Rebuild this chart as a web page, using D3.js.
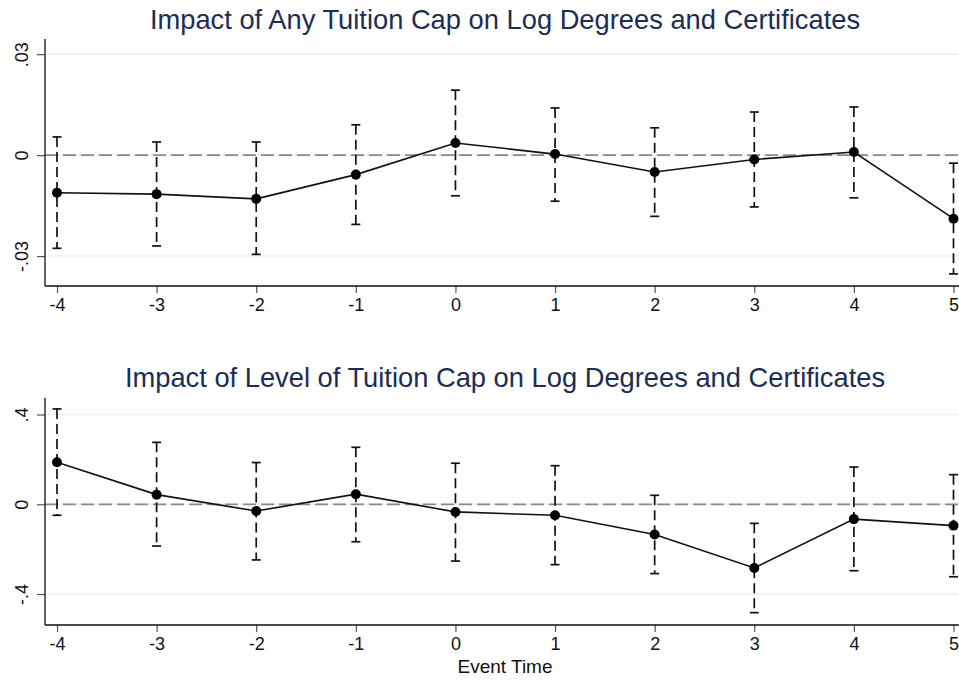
<!DOCTYPE html>
<html>
<head>
<meta charset="utf-8">
<script src="https://cdn.jsdelivr.net/npm/d3@7"></script>
<style>
  html, body { margin: 0; padding: 0; background: #fff; }
  svg { display: block; font-family: "Liberation Sans", Arial, Helvetica, sans-serif; }
</style>
</head>
<body>
<svg id="chart" width="959" height="683"></svg>
<script>
// ---- data ----
const eventTimes = [-4, -3, -2, -1, 0, 1, 2, 3, 4, 5];
const eventTimeLabels = ["-4", "-3", "-2", "-1", "0", "1", "2", "3", "4", "5"];

const anyCapTitle = "Impact of Any Tuition Cap on Log Degrees and Certificates";
const anyCapCoef  = [-0.0112, -0.0116, -0.0130, -0.0058, 0.0036, 0.0003, -0.0050, -0.0013, 0.0009, -0.0189];
const anyCapUpper = [0.0054, 0.0039, 0.0039, 0.0090, 0.0193, 0.0140, 0.0081, 0.0128, 0.0143, -0.0024];
const anyCapLower = [-0.0277, -0.0270, -0.0295, -0.0206, -0.0121, -0.0137, -0.0182, -0.0154, -0.0127, -0.0353];
const anyCapTicks = [-0.03, 0, 0.03];
const anyCapTickLabels = ["-.03", "0", ".03"];

const levelCapTitle = "Impact of Level of Tuition Cap on Log Degrees and Certificates";
const levelCapCoef  = [0.187, 0.043, -0.030, 0.045, -0.034, -0.049, -0.135, -0.284, -0.066, -0.095];
const levelCapUpper = [0.425, 0.276, 0.186, 0.254, 0.183, 0.172, 0.040, -0.085, 0.166, 0.132];
const levelCapLower = [-0.049, -0.186, -0.248, -0.167, -0.253, -0.269, -0.309, -0.483, -0.296, -0.323];
const levelCapTicks = [-0.4, 0, 0.4];
const levelCapTickLabels = ["-.4", "0", ".4"];

const xTitle = "Event Time";

// ---- drawing ----
const svg = d3.select("#chart");
const x = d3.scaleLinear().domain([-4, 5]).range([57, 953.5]);
const plotLeft = 45, plotRight = 959;

function panel(cfg) {
  const y = d3.scaleLinear().domain(cfg.domain).range([cfg.bottom, cfg.top]);
  const g = svg.append("g");

  // title
  g.append("text")
    .attr("x", 505).attr("y", cfg.titleY)
    .attr("text-anchor", "middle")
    .attr("font-size", cfg.titleSize)
    .attr("fill", "#1c2d55")
    .text(cfg.title);

  // gridlines
  g.selectAll(".grid").data(cfg.ticks).enter().append("line")
    .attr("x1", plotLeft).attr("x2", plotRight)
    .attr("y1", d => y(d)).attr("y2", d => y(d))
    .attr("stroke", "#eaf2f3").attr("stroke-width", 1.5);

  // zero reference line
  g.append("line")
    .attr("x1", plotLeft).attr("x2", plotRight)
    .attr("y1", y(0)).attr("y2", y(0))
    .attr("stroke", "#8a8a8a").attr("stroke-width", 1.8)
    .attr("stroke-dasharray", "13,5");

  // y axis
  const yAxis = d3.axisLeft(y).tickValues(cfg.ticks)
    .tickFormat((d, i) => cfg.tickLabels[i]).tickSize(8).tickPadding(6);
  const ya = g.append("g").attr("transform", `translate(${plotLeft},0)`).call(yAxis);
  ya.select(".domain").remove();
  ya.selectAll(".tick line").attr("stroke", "#555").attr("stroke-width", 1.2);
  ya.selectAll(".tick text")
    .attr("font-size", 18).attr("fill", "#111")
    .attr("x", null)
    .attr("text-anchor", "middle")
    .attr("transform", "translate(-23,0) rotate(-90)")
    .attr("dy", "0.36em");
  g.append("line")
    .attr("x1", plotLeft).attr("x2", plotLeft)
    .attr("y1", cfg.top).attr("y2", cfg.bottom)
    .attr("stroke", "#111").attr("stroke-width", 1.3);

  // x axis
  const xAxis = d3.axisBottom(x).tickValues(eventTimes)
    .tickFormat((d, i) => eventTimeLabels[i]).tickSize(7).tickPadding(5);
  const xa = g.append("g").attr("transform", `translate(0,${cfg.bottom})`).call(xAxis);
  xa.select(".domain").remove();
  xa.selectAll(".tick line").attr("stroke", "#555").attr("stroke-width", 1.2);
  xa.selectAll(".tick text").attr("font-size", 18).attr("fill", "#111");
  g.append("line")
    .attr("x1", plotLeft).attr("x2", plotRight)
    .attr("y1", cfg.bottom).attr("y2", cfg.bottom)
    .attr("stroke", "#111").attr("stroke-width", 1.3);

  const rows = eventTimes.map((t, i) => ({ t, c: cfg.coef[i], u: cfg.upper[i], l: cfg.lower[i] }));

  // error bars
  g.selectAll(".ci").data(rows).enter().append("line")
    .attr("x1", d => x(d.t)).attr("x2", d => x(d.t))
    .attr("y1", d => y(d.u)).attr("y2", d => y(d.l))
    .attr("stroke", "#111").attr("stroke-width", 1.7)
    .attr("stroke-dasharray", "10,5");
  ["u", "l"].forEach(k => {
    g.selectAll(".cap" + k).data(rows).enter().append("line")
      .attr("x1", d => x(d.t) - 4.5).attr("x2", d => x(d.t) + 4.5)
      .attr("y1", d => y(d[k])).attr("y2", d => y(d[k]))
      .attr("stroke", "#111").attr("stroke-width", 1.7);
  });

  // connecting line
  g.append("path").datum(rows)
    .attr("d", d3.line().x(d => x(d.t)).y(d => y(d.c)))
    .attr("fill", "none").attr("stroke", "#111").attr("stroke-width", 1.6);

  // markers
  g.selectAll(".pt").data(rows).enter().append("circle")
    .attr("cx", d => x(d.t)).attr("cy", d => y(d.c)).attr("r", 5)
    .attr("fill", "#000");
}

panel({
  title: anyCapTitle, titleY: 29, titleSize: 27.3,
  domain: [-0.0389, 0.0345], top: 39, bottom: 286,
  ticks: anyCapTicks, tickLabels: anyCapTickLabels,
  coef: anyCapCoef, upper: anyCapUpper, lower: anyCapLower
});
panel({
  title: levelCapTitle, titleY: 387, titleSize: 27.3,
  domain: [-0.538, 0.475], top: 397.7, bottom: 625,
  ticks: levelCapTicks, tickLabels: levelCapTickLabels,
  coef: levelCapCoef, upper: levelCapUpper, lower: levelCapLower
});

svg.append("text")
  .attr("x", 505).attr("y", 673)
  .attr("text-anchor", "middle")
  .attr("font-size", 19).attr("fill", "#111")
  .text(xTitle);
</script>
</body>
</html>
